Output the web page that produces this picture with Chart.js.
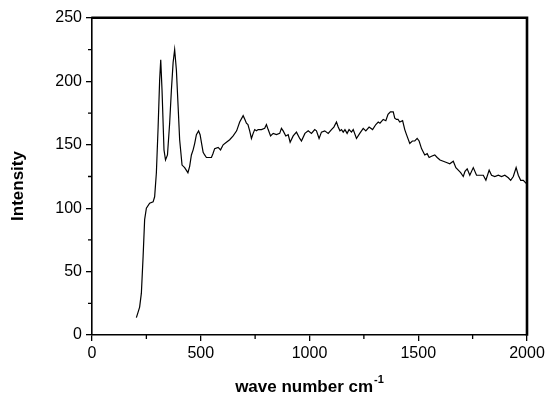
<!DOCTYPE html>
<html><head><meta charset="utf-8">
<script src="https://cdn.jsdelivr.net/npm/chart.js@4.4.1/dist/chart.umd.min.js"></script>
<style>html,body{margin:0;padding:0;background:#fff}canvas{display:block}</style>
</head><body>
<canvas id="c" width="551" height="395"></canvas>
<script>
const waveNumbers = [204,212,219,227,235,242,250,265,281,288,296,304,311,316,322,331,338,347,357,365,373,380,388,396,403,414,426,441,449,457,465,472,480,490,497,504,511,518,526,534,549,556,564,580,591,603,618,633,649,665,679,695,703,710,717,725,733,741,748,756,764,779,794,802,810,821,833,848,863,871,879,891,902,911,925,940,955,963,979,994,1009,1024,1032,1044,1055,1070,1086,1101,1112,1124,1132,1140,1147,1155,1163,1173,1182,1193,1201,1216,1231,1247,1259,1274,1290,1305,1316,1324,1339,1351,1361,1372,1385,1392,1400,1407,1415,1428,1438,1446,1461,1473,1484,1495,1504,1515,1530,1541,1550,1561,1576,1587,1600,1615,1630,1645,1661,1673,1684,1695,1707,1715,1725,1737,1753,1768,1783,1799,1811,1826,1837,1852,1868,1883,1898,1914,1925,1937,1950,1960,1971,1983,1994,2000];
const intensity = [13.7,18,22,33,62,91,100,104,105,109,128,164,201,217,193,146,138,142,167,193,215,225,209,180,154,134,132,128,133,142,146,151,158,161,158,151,144,142,140,140,140,143,147,148,146,150,152,154,157,161,168,173,170,167,166,161,155,159,162,161,162,162,163,166,162,157,159,158,159,163,161,157,158,152,157,160,155,153,159,161,159,162,161,155,160,161,159,162,164,168,164,161,162,160,162,159,162,160,162,155,159,163,161,164,162,166,168,167,170,169,174,176,176,171,170,170,168,169,162,158,151,153,153,155,153,147,142,143,140,141,142,140,138,137,136,135,137,132,130,128,125,129,131,126,132,126,126,126,122,130,126,125,126,125,126,124,122,125,132,126,122,122,120,119];
const xTicks = [0,500,1000,1500,2000];
const yTicks = [0,50,100,150,200,250];
const xMinor = [250,750,1250,1750];
const yMinor = [25,75,125,175,225];
const xTitle = 'wave number cm';
const xTitleSup = '-1';
const yTitle = 'Intensity';

const FONT = '"Liberation Sans", Arial, Helvetica, sans-serif';

const framePlugin = {
  id: 'frame',
  afterDraw(chart) {
    const {ctx, chartArea: a, scales} = chart;
    const xs = scales.x, ys = scales.y;
    ctx.save();
    ctx.strokeStyle = '#000';
    ctx.lineWidth = 1.3;
    ctx.beginPath();
    xMinor.forEach(v => { const p = xs.getPixelForValue(v); ctx.moveTo(p, a.bottom); ctx.lineTo(p, a.bottom + 4); });
    yMinor.forEach(v => { const p = ys.getPixelForValue(v); ctx.moveTo(a.left - 4, p); ctx.lineTo(a.left, p); });
    ctx.stroke();
    ctx.lineWidth = 2.6;
    ctx.beginPath();
    ctx.moveTo(a.left - 0.7, a.top - 0.3);
    ctx.lineTo(a.right, a.top - 0.3);
    ctx.lineTo(a.right, a.bottom + 0.7);
    ctx.stroke();
    ctx.fillStyle = '#000';
    ctx.font = 'bold 17px ' + FONT;
    const mainW = ctx.measureText(xTitle).width;
    ctx.font = 'bold 11px ' + FONT;
    const supW = ctx.measureText(xTitleSup).width;
    const total = mainW + supW + 1;
    const cx = (a.left + a.right) / 2;
    const x0 = cx - total / 2;
    ctx.textBaseline = 'alphabetic';
    ctx.textAlign = 'left';
    ctx.font = 'bold 17px ' + FONT;
    ctx.fillText(xTitle, x0, 392);
    ctx.font = 'bold 11px ' + FONT;
    ctx.fillText(xTitleSup, x0 + mainW + 1, 383);
    ctx.translate(18, 186);
    ctx.rotate(-Math.PI / 2);
    ctx.textAlign = 'center';
    ctx.textBaseline = 'middle';
    ctx.font = 'bold 17px ' + FONT;
    ctx.fillText(yTitle, 0, 0);
    ctx.restore();
  }
};

new Chart(document.getElementById('c'), {
  type: 'line',
  data: {
    datasets: [{
      data: waveNumbers.map((x, i) => ({x, y: intensity[i]})),
      borderColor: '#000',
      borderWidth: 1.2,
      pointRadius: 0,
      fill: false,
      tension: 0
    }]
  },
  options: {
    responsive: false,
    animation: false,
    devicePixelRatio: 1,
    layout: {padding: {top: 18, right: 24, left: 0, bottom: 0}},
    plugins: {legend: {display: false}, tooltip: {enabled: false}},
    scales: {
      x: {
        type: 'linear', min: 0, max: 2000,
        afterBuildTicks: s => { s.ticks = xTicks.map(v => ({value: v})); },
        afterFit: s => { s.height = 60; },
        grid: {display: true, drawOnChartArea: false, drawTicks: true, tickLength: 6, color: '#000', lineWidth: 1.3},
        border: {display: true, color: '#000', width: 1.6},
        ticks: {color: '#000', font: {family: FONT, size: 16}, padding: 3, maxRotation: 0, autoSkip: false, callback: v => String(v)}
      },
      y: {
        min: 0, max: 250,
        afterBuildTicks: s => { s.ticks = yTicks.map(v => ({value: v})); },
        afterFit: s => { s.width = 92; },
        grid: {display: true, drawOnChartArea: false, drawTicks: true, tickLength: 6, color: '#000', lineWidth: 1.3},
        border: {display: true, color: '#000', width: 1.6},
        ticks: {color: '#000', font: {family: FONT, size: 16}, padding: 4, autoSkip: false, callback: v => String(v)}
      }
    }
  },
  plugins: [framePlugin]
});
</script>
</body></html>
